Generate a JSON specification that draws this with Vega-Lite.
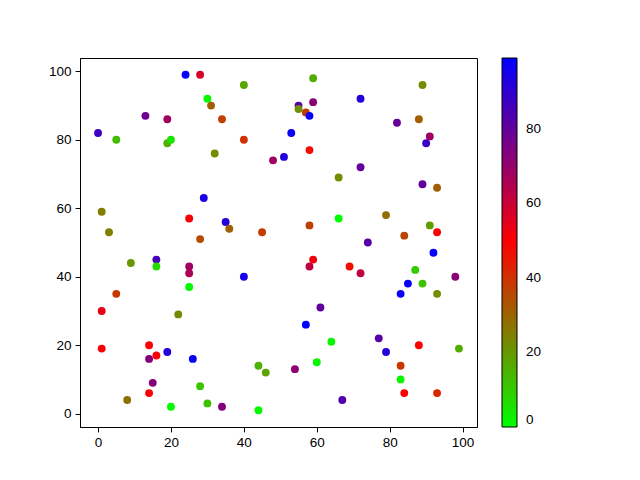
{
  "$schema": "https://vega.github.io/schema/vega-lite/v6.json",
  "width": 397,
  "height": 369,
  "autosize": {"type": "none"},
  "padding": {"left": 80, "top": 58, "right": 163, "bottom": 53},
  "background": "white",
  "config": {
    "view": {"stroke": "black", "strokeWidth": 1},
    "axis": {
      "grid": false,
      "domainColor": "black",
      "tickColor": "black",
      "labelColor": "black",
      "labelFont": "Liberation Sans",
      "labelFontSize": 13.5,
      "tickSize": 4.9,
      "labelPadding": 4,
      "title": null
    },
    "legend": {
      "labelFont": "Liberation Sans",
      "labelFontSize": 13.5,
      "labelColor": "black"
    }
  },
  "data": {
    "values": [
      {"x": 24, "y": 99, "c": 98}, {"x": 28, "y": 99, "c": 57}, {"x": 40, "y": 96, "c": 17}, {"x": 30, "y": 92, "c": 2},
      {"x": 31, "y": 90, "c": 31}, {"x": 13, "y": 87, "c": 77}, {"x": 19, "y": 86, "c": 68}, {"x": 34, "y": 86, "c": 37},
      {"x": 0, "y": 82, "c": 87}, {"x": 5, "y": 80, "c": 13}, {"x": 19, "y": 79, "c": 16}, {"x": 20, "y": 80, "c": 5},
      {"x": 40, "y": 80, "c": 40}, {"x": 32, "y": 76, "c": 22}, {"x": 48, "y": 74, "c": 68}, {"x": 29, "y": 63, "c": 94},
      {"x": 1, "y": 59, "c": 25}, {"x": 25, "y": 57, "c": 51}, {"x": 35, "y": 56, "c": 92}, {"x": 36, "y": 54, "c": 31},
      {"x": 3, "y": 53, "c": 25}, {"x": 45, "y": 53, "c": 38}, {"x": 28, "y": 51, "c": 35},
      {"x": 59, "y": 98, "c": 16}, {"x": 89, "y": 96, "c": 22}, {"x": 72, "y": 92, "c": 92}, {"x": 55, "y": 90, "c": 82},
      {"x": 59, "y": 91, "c": 72}, {"x": 55, "y": 89, "c": 22}, {"x": 57, "y": 88, "c": 38}, {"x": 58, "y": 87, "c": 98},
      {"x": 82, "y": 85, "c": 79}, {"x": 88, "y": 86, "c": 31}, {"x": 53, "y": 82, "c": 97}, {"x": 91, "y": 81, "c": 68},
      {"x": 90, "y": 79, "c": 88}, {"x": 58, "y": 77, "c": 47}, {"x": 51, "y": 75, "c": 92}, {"x": 72, "y": 72, "c": 80},
      {"x": 66, "y": 69, "c": 22}, {"x": 89, "y": 67, "c": 80}, {"x": 93, "y": 66, "c": 31}, {"x": 79, "y": 58, "c": 28},
      {"x": 66, "y": 57, "c": 0}, {"x": 91, "y": 55, "c": 19}, {"x": 93, "y": 53, "c": 50}, {"x": 58, "y": 55, "c": 37},
      {"x": 84, "y": 52, "c": 36}, {"x": 74, "y": 50, "c": 82},
      {"x": 16, "y": 45, "c": 85}, {"x": 16, "y": 43, "c": 7}, {"x": 9, "y": 44, "c": 20}, {"x": 25, "y": 43, "c": 68},
      {"x": 25, "y": 41, "c": 66}, {"x": 40, "y": 40, "c": 95}, {"x": 25, "y": 37, "c": 1}, {"x": 5, "y": 35, "c": 39},
      {"x": 1, "y": 30, "c": 54}, {"x": 22, "y": 29, "c": 23}, {"x": 1, "y": 19, "c": 51}, {"x": 14, "y": 20, "c": 50},
      {"x": 16, "y": 17, "c": 51}, {"x": 14, "y": 16, "c": 73}, {"x": 19, "y": 18, "c": 92}, {"x": 26, "y": 16, "c": 98},
      {"x": 44, "y": 14, "c": 15}, {"x": 46, "y": 12, "c": 18}, {"x": 15, "y": 9, "c": 73}, {"x": 14, "y": 6, "c": 50},
      {"x": 28, "y": 8, "c": 11}, {"x": 8, "y": 4, "c": 28}, {"x": 20, "y": 2, "c": 1}, {"x": 30, "y": 3, "c": 12},
      {"x": 34, "y": 2, "c": 74}, {"x": 44, "y": 1, "c": 1},
      {"x": 92, "y": 47, "c": 98}, {"x": 59, "y": 45, "c": 52}, {"x": 58, "y": 43, "c": 62}, {"x": 69, "y": 43, "c": 47},
      {"x": 72, "y": 41, "c": 62}, {"x": 87, "y": 42, "c": 10}, {"x": 98, "y": 40, "c": 72}, {"x": 85, "y": 38, "c": 97},
      {"x": 89, "y": 38, "c": 12}, {"x": 83, "y": 35, "c": 97}, {"x": 93, "y": 35, "c": 22}, {"x": 61, "y": 31, "c": 80},
      {"x": 57, "y": 26, "c": 99}, {"x": 64, "y": 21, "c": 2}, {"x": 77, "y": 22, "c": 82}, {"x": 79, "y": 18, "c": 92},
      {"x": 88, "y": 20, "c": 50}, {"x": 99, "y": 19, "c": 16}, {"x": 60, "y": 15, "c": 2}, {"x": 54, "y": 13, "c": 72},
      {"x": 83, "y": 14, "c": 39}, {"x": 83, "y": 10, "c": 2}, {"x": 84, "y": 6, "c": 50}, {"x": 93, "y": 6, "c": 42},
      {"x": 67, "y": 4, "c": 83}
    ]
  },
  "mark": {"type": "circle", "size": 62, "opacity": 1},
  "encoding": {
    "x": {
      "field": "x", "type": "quantitative",
      "scale": {"domain": [-4.95, 103.95], "nice": false, "zero": false},
      "axis": {"values": [0, 20, 40, 60, 80, 100]}
    },
    "y": {
      "field": "y", "type": "quantitative",
      "scale": {"domain": [-3.9, 103.9], "nice": false, "zero": false},
      "axis": {"values": [0, 20, 40, 60, 80, 100]}
    },
    "color": {
      "field": "c", "type": "quantitative",
      "scale": {"domain": [0, 49.5, 99], "range": ["#00ff00", "#ff0000", "#0000ff"], "interpolate": "rgb"},
      "legend": {
        "title": null,
        "direction": "vertical",
        "orient": "right",
        "offset": 25,
        "padding": 0,
        "gradientLength": 369,
        "gradientThickness": 15,
        "gradientStrokeColor": "black",
        "gradientStrokeWidth": 1,
        "values": [0, 20, 40, 60, 80],
        "labelOverlap": false,
        "labelOffset": 9,
        "labelBaseline": "middle",
        "encode": {"labels": {"update": {"baseline": {"value": "middle"}}}}
      }
    }
  }
}
